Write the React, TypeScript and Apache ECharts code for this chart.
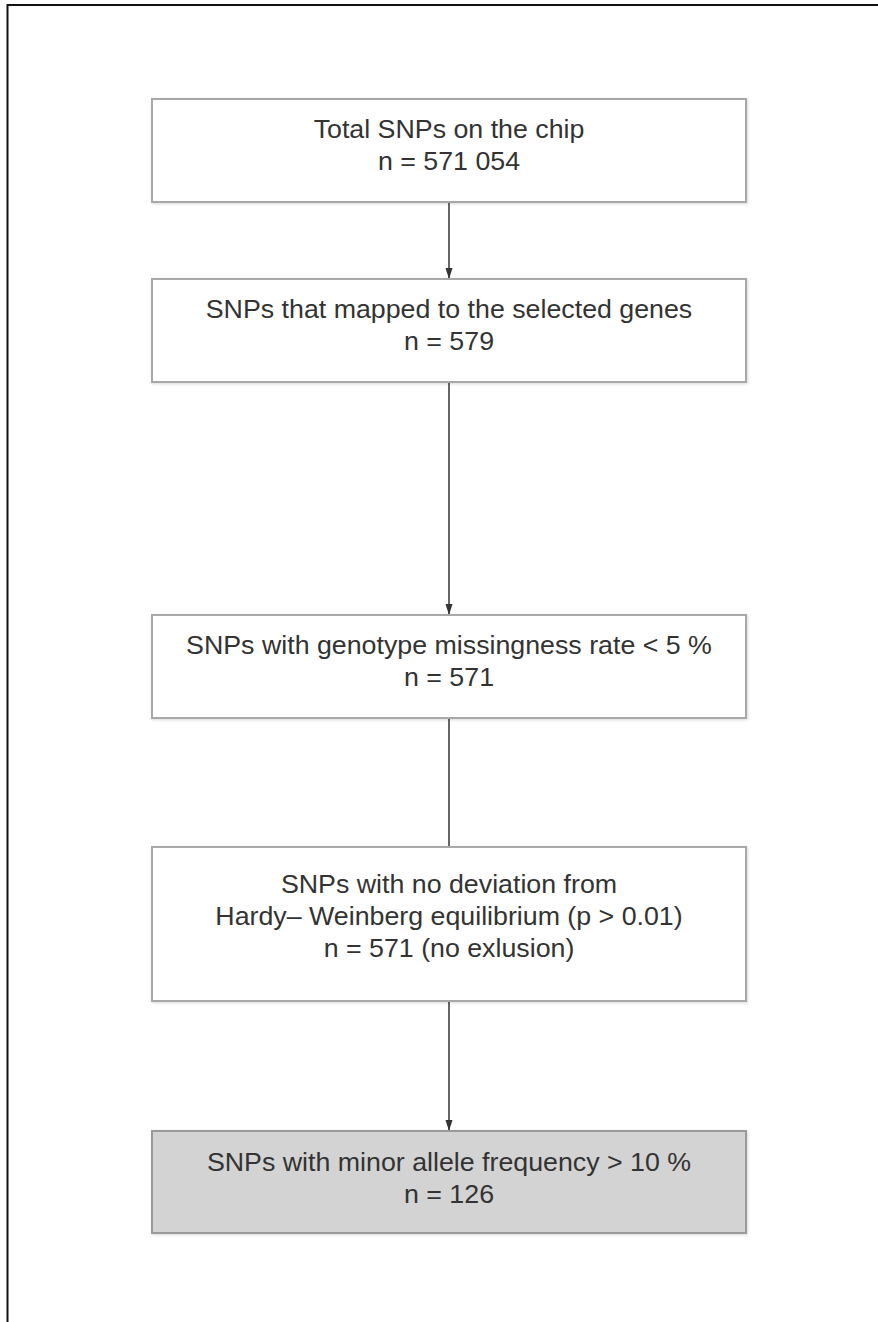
import React, { useEffect, useRef } from "react";
import * as echarts from "echarts";

const boxTitles: string[][] = [
  ["Total SNPs on the chip"],
  ["SNPs that mapped to the selected genes"],
  ["SNPs with genotype missingness rate < 5 %"],
  ["SNPs with no deviation from", "Hardy\u2013 Weinberg equilibrium (p > 0.01)"],
  ["SNPs with minor allele frequency > 10 %"],
];
const boxCounts: string[] = ["n = 571 054", "n = 579", "n = 571", "n = 571 (no exlusion)", "n = 126"];
const boxTops: number[] = [99, 279, 615, 847, 1131];
const boxBottoms: number[] = [202, 382, 718, 1001, 1233];
const boxFills: string[] = ["#ffffff", "#ffffff", "#ffffff", "#ffffff", "#d3d3d3"];
const arrowHeads: boolean[] = [true, true, false, true];

const W = 878;
const H = 1322;
const BOX_L = 152;
const BOX_R = 746;
const CX = 449;
const FONT = 26;
const LINE = 32;
const TEXT_SHIFT = [-5, -5, -5, -8, -4];

export default function App() {
  const ref = useRef<HTMLDivElement>(null);
  useEffect(() => {
    if (!ref.current) return;
    const chart = echarts.init(ref.current, undefined, { renderer: "svg", width: W, height: H });
    const elements: any[] = [];
    elements.push({
      type: "rect",
      shape: { x: 7.5, y: 5, width: W + 20, height: H + 20 },
      style: { fill: "#ffffff", stroke: "#111111", lineWidth: 2 },
      z: 0,
    });
    boxTitles.forEach((title, i) => {
      const top = boxTops[i];
      const bottom = boxBottoms[i];
      elements.push({
        type: "rect",
        shape: { x: BOX_L, y: top, width: BOX_R - BOX_L, height: bottom - top },
        style: {
          fill: boxFills[i],
          stroke: i === 4 ? "#9a9a9a" : "#a8a8a8",
          lineWidth: 2,
          shadowBlur: 3,
          shadowColor: "rgba(0,0,0,0.15)",
          shadowOffsetX: 1,
          shadowOffsetY: 1,
        },
        z: 2,
      });
      const lines = [...title, boxCounts[i]];
      const mid = (top + bottom) / 2 + TEXT_SHIFT[i];
      const start = mid - ((lines.length - 1) * LINE) / 2;
      lines.forEach((ln, j) => {
        elements.push({
          type: "text",
          x: CX,
          y: start + j * LINE,
          scaleX: 1.03,
          style: {
            text: ln,
            fill: "#333333",
            font: `${FONT}px "Liberation Sans", Arial, sans-serif`,
            align: "center",
            verticalAlign: "middle",
          },
          z: 3,
        });
      });
      if (i < boxTitles.length - 1) {
        const y1 = bottom;
        const y2 = boxTops[i + 1];
        elements.push({
          type: "line",
          shape: { x1: CX, y1, x2: CX, y2 },
          style: { stroke: "#333333", lineWidth: 1.5 },
          z: 1,
        });
        if (arrowHeads[i]) {
          elements.push({
            type: "polygon",
            shape: { points: [[CX - 3.5, y2 - 11], [CX + 3.5, y2 - 11], [CX, y2]] },
            style: { fill: "#333333" },
            z: 1,
          });
        }
      }
    });
    chart.setOption({ animation: false, graphic: { elements } });
    return () => chart.dispose();
  }, []);
  return (
    <div
      ref={ref}
      style={{ position: "fixed", left: 0, top: 0, width: W, height: H, background: "#fff" }}
    />
  );
}
